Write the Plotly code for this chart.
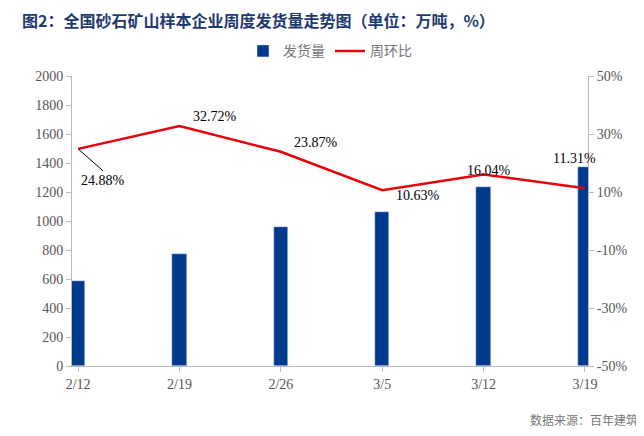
import plotly.graph_objects as go

dates = ["2/12", "2/19", "2/26", "3/5", "3/12", "3/19"]
shipments = [586, 775, 960, 1065, 1235, 1375]
wow = [24.88, 32.72, 23.87, 10.63, 16.04, 11.31]
pct_ticks = [50, 30, 10, -10, -30, -50]

x = list(range(len(dates)))
fig = go.Figure()
fig.add_trace(go.Bar(x=x, y=shipments, name="发货量", marker_color="#003a8c", width=0.14, yaxis="y"))
fig.add_trace(go.Scatter(x=x, y=wow, name="周环比", mode="lines", line=dict(color="#e8000b", width=2.5), yaxis="y2"))

lf = dict(family="Liberation Serif", size=14, color="#000")
fig.add_annotation(x=x[0], y=wow[0], yref="y2", text=f"{wow[0]:.2f}%", showarrow=True,
                   arrowhead=0, arrowwidth=1, arrowcolor="#000", ax=25, ay=22,
                   xanchor="center", yanchor="top", font=lf)
dxs = {1: 0.35, 2: 0.35, 3: 0.35, 4: 0.05, 5: -0.1}
dys = {1: 0, 2: 0, 3: -2, 4: -2, 5: 7}
for i in range(1, len(wow)):
    fig.add_annotation(x=x[i] + dxs[i], y=wow[i] + dys[i], yref="y2", text=f"{wow[i]:.2f}%",
                       showarrow=False, yanchor="middle" if i == 3 else "bottom", font=lf)

fig.add_annotation(xref="paper", yref="paper", x=-0.1, y=1.145, xanchor="left", yanchor="bottom",
                   text="<b>图2：全国砂石矿山样本企业周度发货量走势图（单位：万吨，%）</b>",
                   showarrow=False, font=dict(family="Noto Sans CJK SC", size=16, color="#1f3a70"))
fig.add_annotation(xref="paper", yref="paper", x=1.1, y=-0.22, xanchor="right", yanchor="bottom",
                   text="数据来源：百年建筑", showarrow=False,
                   font=dict(family="Noto Sans CJK SC", size=12, color="#777"))

tickfont = dict(family="Liberation Serif", size=14, color="#555")
fig.update_layout(
    width=644, height=436, plot_bgcolor="white", paper_bgcolor="white",
    margin=dict(l=64, r=64, t=68, b=78, autoexpand=False),
    showlegend=True,
    legend=dict(orientation="h", x=0.5, xanchor="center", y=1.03, yanchor="bottom",
                font=dict(family="Noto Sans CJK SC", size=14, color="#777")),
    bargap=0,
    xaxis=dict(tickvals=x, ticktext=dates, range=[-0.06, 5.03], showline=True, linecolor="#bbb",
               ticks="outside", tickcolor="#bbb", tickfont=tickfont, showgrid=False, zeroline=False),
    yaxis=dict(range=[0, 2000], dtick=200, showline=True, linecolor="#bbb", ticks="outside",
               tickcolor="#bbb", tickfont=tickfont, showgrid=False, zeroline=False),
    yaxis2=dict(range=[-50, 50], tickvals=pct_ticks, ticktext=[f"{v}%" for v in pct_ticks],
                overlaying="y", side="right", showline=True, linecolor="#bbb",
                ticks="outside", tickcolor="#bbb", tickfont=tickfont, showgrid=False, zeroline=False),
)
fig.write_html("out.html")
